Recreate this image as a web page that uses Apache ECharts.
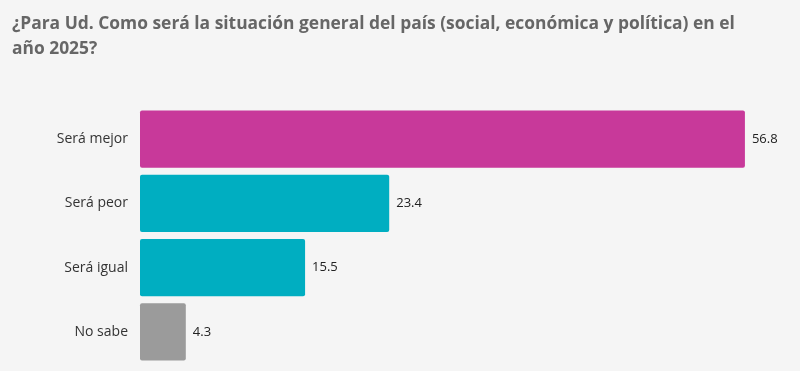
<!DOCTYPE html>
<html><head><meta charset="utf-8">
<script src="https://cdn.jsdelivr.net/npm/echarts@6/dist/echarts.min.js"></script>
<style>html,body{margin:0;padding:0;background:#f5f5f5}#c{width:800px;height:371px}</style>
</head><body><div id="c"></div>
<script>
const titleLines = ["¿Para Ud. Como será la situación general del país (social, económica y política) en el", "año 2025?"];
const categories = ["Será mejor", "Será peor", "Será igual", "No sabe"];
const values = [56.8, 23.4, 15.5, 4.3];
const colors = ["#C8399A", "#00AEC1", "#00AEC1", "#9B9B9B"];

const chart = echarts.init(document.getElementById('c'));
chart.setOption({
  backgroundColor: '#f5f5f5',
  animation: false,
  title: {
    text: titleLines.join('\n'),
    left: 7, top: 7,
    textStyle: { fontFamily: 'Open Sans', fontWeight: 'bold', fontSize: 17.4, color: '#666666', lineHeight: 25 }
  },
  grid: { left: 140, right: 21, top: 107, bottom: 7, containLabel: false },
  xAxis: { type: 'value', min: 0, max: 60, show: false },
  yAxis: {
    type: 'category', data: categories, inverse: true,
    axisLine: { show: false }, axisTick: { show: false },
    axisLabel: { fontFamily: 'Open Sans', fontSize: 14, color: '#333', margin: 12 }
  },
  series: [{
    type: 'bar',
    data: values.map((v, i) => ({ value: v, itemStyle: { color: colors[i] } })),
    barCategoryGap: '11%',
    itemStyle: { borderRadius: 2 },
    label: { show: true, position: 'right', distance: 7, fontFamily: 'Open Sans', fontSize: 13, color: '#222',
      formatter: p => p.value.toFixed(1) }
  }]
});
</script></body></html>
